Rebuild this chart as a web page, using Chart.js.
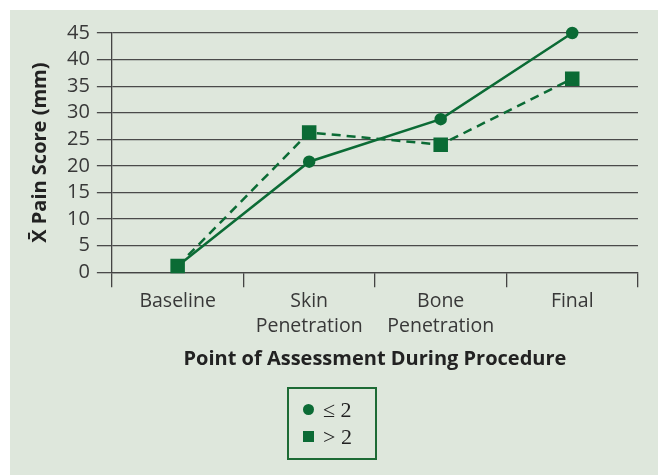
<!DOCTYPE html>
<html><head><meta charset="utf-8">
<script src="https://cdn.jsdelivr.net/npm/chart.js@4/dist/chart.umd.min.js"></script>
<style>
html,body{margin:0;padding:0;background:#fff;width:658px;height:475px;overflow:hidden;}
#panel{position:absolute;left:10px;top:10px;width:648px;height:465px;background:#dee7dc;}
#wrap{position:absolute;left:0;top:0;width:658px;height:475px;}
#legend{position:absolute;left:287px;top:387px;width:86px;height:69px;border:2px solid #1d6b35;font-family:"Liberation Serif",serif;font-size:22px;color:#222;}
.item{position:absolute;left:14px;height:24px;line-height:24px;}
.dot{display:inline-block;width:11px;height:11px;border-radius:50%;background:#0b6b35;vertical-align:middle;margin-right:9px;position:relative;top:-2px;}
.sq{display:inline-block;width:11px;height:11px;background:#0b6b35;vertical-align:middle;margin-right:9px;position:relative;top:-2px;}
</style></head>
<body>
<div id="panel"></div>
<div id="wrap"><canvas id="c" width="658" height="475"></canvas></div>
<div id="legend">
  <div class="item" style="top:9px"><span class="dot"></span>≤ 2</div>
  <div class="item" style="top:36px"><span class="sq"></span>&gt; 2</div>
</div>
<script>
const categories = [['Baseline'], ['Skin', 'Penetration'], ['Bone', 'Penetration'], ['Final']];
const seriesLE2 = [1.2, 20.8, 28.8, 45.0];
const seriesGT2 = [1.2, 26.3, 24.0, 36.4];
const yTicks = [0, 5, 10, 15, 20, 25, 30, 35, 40, 45];

const green = '#0b6b35';
const font = '"Open Sans", "Lato", sans-serif';

new Chart(document.getElementById('c'), {
  type: 'line',
  data: {
    labels: categories,
    datasets: [
      { label: '> 2', data: seriesGT2, borderColor: green, backgroundColor: green, borderWidth: 2.5,
        borderDash: [9, 6], pointStyle: 'rect', pointRadius: 8.5, pointHoverRadius: 8.5, tension: 0, clip: false },
      { label: '≤ 2', data: seriesLE2, borderColor: green, backgroundColor: green, borderWidth: 2.5,
        pointStyle: 'circle', pointRadius: 5, pointHoverRadius: 5, tension: 0, clip: false }
    ]
  },
  options: {
    responsive: false,
    animation: false,
    layout: { padding: { left: 24, right: 20, top: 33, bottom: 100 } },
    plugins: { legend: { display: false }, tooltip: { enabled: false } },
    scales: {
      x: {
        offset: true,
        grid: { offset: true, drawOnChartArea: false, drawTicks: true, tickLength: 15, color: '#444', lineWidth: 1.3 },
        border: { display: true, color: '#444', width: 1.3 },
        ticks: { color: '#383838', font: { family: font, size: 19.5, lineHeight: 1.3 }, padding: 1, maxRotation: 0, autoSkip: false },
        title: { display: true, text: 'Point of Assessment During Procedure', color: '#222',
          font: { family: font, size: 20, weight: 'bold' }, padding: { top: 7 } }
      },
      y: {
        min: 0, max: 45,
        afterBuildTicks: (axis) => { axis.ticks = yTicks.map(v => ({ value: v })); },
        grid: { drawOnChartArea: true, drawTicks: true, tickLength: 15, color: '#4a4a4a', lineWidth: 1.3 },
        border: { display: true, color: '#444', width: 1.3 },
        ticks: { color: '#383838', font: { family: font, size: 20 }, padding: 7, autoSkip: false },
        title: { display: true, text: 'X̄ Pain Score (mm)', color: '#222',
          font: { family: font, size: 20, weight: 'bold' }, padding: { bottom: 8 } }
      }
    }
  }
});
</script>
</body></html>
